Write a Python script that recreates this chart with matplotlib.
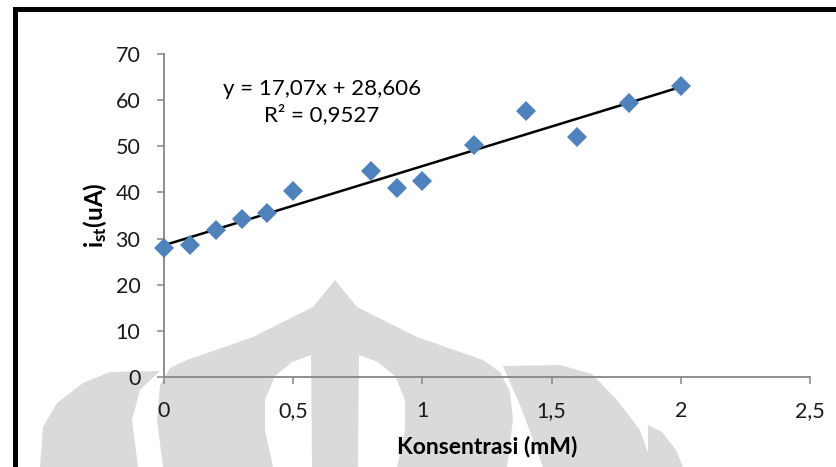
import matplotlib.pyplot as plt
from matplotlib.patches import Polygon
import numpy as np

plt.rcParams.update({
  'font.family'      : ['Lato', 'DejaVu Sans'],
  'font.size'        : 15.5,
  'mathtext.fontset' : 'custom',
  'mathtext.rm'      : 'Lato',
  'mathtext.bf'      : 'Lato:bold',
  'mathtext.it'      : 'Lato:italic',
  'figure.facecolor' : 'w',
  'figure.dpi'       : 100,
  'figure.figsize'   : (8.36, 4.67),
})

# data
konsentrasi = [0, 0.1, 0.2, 0.3, 0.4, 0.5, 0.8, 0.9, 1.0, 1.2, 1.4, 1.6, 1.8, 2.0]
i_st = [28.0, 28.6, 31.9, 34.2, 35.5, 40.3, 44.6, 41.0, 42.5, 50.3, 57.6, 52.0, 59.4, 63.1]

x_ticks = [0, 0.5, 1, 1.5, 2, 2.5]
x_tick_labels = ['0', '0,5', '1', '1,5', '2', '2,5']
y_ticks = [0, 10, 20, 30, 40, 50, 60, 70]

trend_text = 'y = 17,07x + 28,606\nR² = 0,9527'

W, H = 836, 467
def px(pts):
  # pixel coords (from top-left) -> figure fraction
  return [(x / W, 1 - y / H) for x, y in pts]

fig = plt.figure()

# faded watermark in the background of the scanned page
wm_gray = '#dadada'
dome = [(163, 467), (157, 420), (160, 385), (170, 368), (187, 360), (253, 337),
        (313, 307), (335, 280), (357, 307), (417, 337), (483, 360), (500, 372),
        (510, 392), (513, 420), (507, 467)]
lens_l = [(273, 467), (265, 430), (265, 400), (275, 376), (292, 362), (311, 355),
          (312, 467)]
lens_r = [(397, 467), (405, 430), (405, 400), (395, 376), (378, 362), (359, 355),
          (358, 467)]
petal_l = [(40, 467), (43, 427), (57, 403), (83, 383), (110, 372), (160, 371),
           (140, 390), (132, 420), (138, 467)]
petal_r = [(543, 467), (522, 410), (503, 366), (560, 365), (592, 374), (617, 400),
           (640, 430), (653, 467)]
outer_r = [(648, 467), (648, 425), (662, 432), (676, 450), (683, 467)]
for shape in [dome, petal_l, petal_r, outer_r]:
  fig.add_artist(Polygon(px(shape), closed=True, transform=fig.transFigure,
                         facecolor=wm_gray, edgecolor='none', zorder=-2))
for shape in [lens_l, lens_r]:
  fig.add_artist(Polygon(px(shape), closed=True, transform=fig.transFigure,
                         facecolor='white', edgecolor='none', zorder=-1))

ax = fig.add_axes([164 / W, 1 - 377 / H, (810 - 164) / W, (377 - 54) / H])
ax.patch.set_alpha(0)

# trendline (linear fit)
slope, intercept = np.polyfit(konsentrasi, i_st, 1)
xs = np.array([min(konsentrasi), max(konsentrasi)])
ax.plot(xs, slope * xs + intercept, color='black', linewidth=1.8, zorder=2)

pts, = ax.plot(konsentrasi, i_st, linestyle='none', marker='D', markersize=10,
               color='#4F81BD', markeredgewidth=0, zorder=3)
pts.set_clip_on(False)

ax.text(0.611, 59.5, trend_text, ha='center', va='center', multialignment='center',
        fontsize=16, linespacing=1.3)

ax.set_xlim(0, 2.5)
ax.set_ylim(0, 70)
ax.set_xticks(x_ticks)
ax.set_xticklabels(x_tick_labels)
ax.set_yticks(y_ticks)

for side in ['top', 'right']:
  ax.spines[side].set_visible(False)
for side in ['left', 'bottom']:
  ax.spines[side].set_color('#868686')
  ax.spines[side].set_linewidth(1.3)
ax.tick_params(axis='both', direction='out', length=5, width=1.1, color='#868686',
               labelsize=15.5, labelcolor='#1a1a1a')
ax.tick_params(axis='x', pad=12)
ax.tick_params(axis='y', pad=12)

ax.set_xlabel('Konsentrasi (mM)', fontweight='bold', fontsize=16.5, labelpad=11)
ax.set_ylabel(r'$\mathbf{i_{st}}$(uA)', fontweight='bold', fontsize=17.5, labelpad=5)

# black frame along top and left edge
fig.add_artist(plt.Line2D([14.5 / W, 14.5 / W], [0, 1 - 8.5 / H], transform=fig.transFigure,
                          color='black', linewidth=3.6, solid_capstyle='projecting'))
fig.add_artist(plt.Line2D([14.5 / W, 1.0], [1 - 8.5 / H, 1 - 8.5 / H], transform=fig.transFigure,
                          color='black', linewidth=3.6, solid_capstyle='projecting'))

plt.savefig('out.png')
